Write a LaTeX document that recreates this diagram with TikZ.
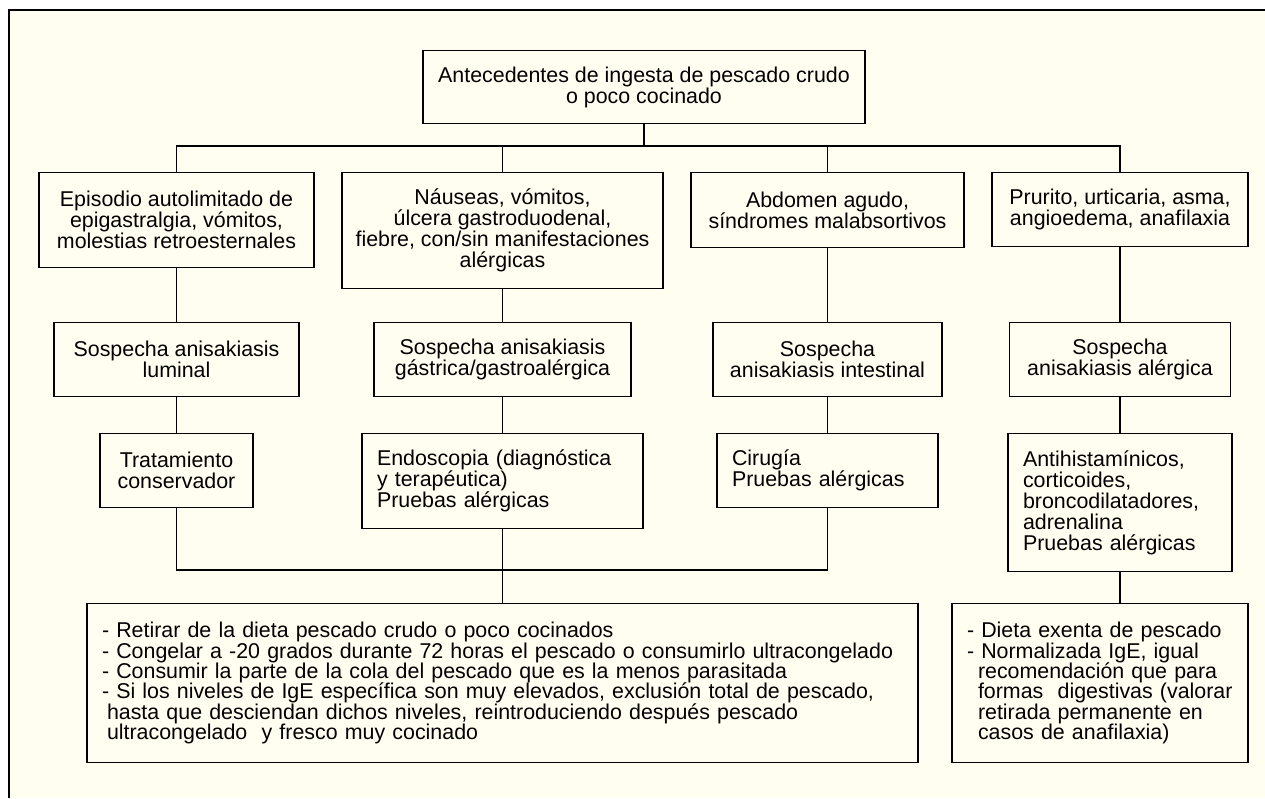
\documentclass[tikz,border=0pt]{standalone}
\usepackage{fontspec}
\setmainfont{Liberation Sans}
\usepackage{tikz}
\usetikzlibrary{positioning}
\definecolor{cream}{RGB}{255,254,241}
\newcommand{\boxfont}{\fontsize{21.4pt}{21pt}\selectfont}
\newcommand{\listfont}{\fontsize{21.4pt}{20.3pt}\selectfont}
\tikzset{
    %Define style for boxes
    punkt/.style={
           rectangle,
           draw=black, line width=1.2pt,
           fill=cream,
           inner sep=4pt,
           font=\boxfont,
           align=center},
    punktleft/.style={
           punkt,
           inner xsep=15pt,
           align=left},
    % Define line style
    pil/.style={
           -,
           line width=1.2pt}
}

\begin{document}
\begin{tikzpicture}[x=1pt,y=-1pt,pil]
\useasboundingbox (0,0) rectangle (1265,798);
\fill[cream] (9,10) rectangle (1265,798);
\draw (9,798) -- (9,10) -- (1265,10);

 %nodes
\node[punkt, minimum width=442pt, minimum height=73pt, anchor=north] (1) at (644,50) {Antecedentes de ingesta de pescado crudo\\o poco cocinado};

\node[punkt, minimum width=275pt, minimum height=95pt, anchor=north] (2) at (176.5,172) {Episodio autolimitado de\\epigastralgia, vómitos,\\molestias retroesternales};
\node[punkt, minimum width=321pt, minimum height=116pt, anchor=north] (3) at (502.5,172) {Náuseas, vómitos,\\úlcera gastroduodenal,\\fiebre, con/sin manifestaciones\\alérgicas};
\node[punkt, minimum width=273pt, minimum height=75pt, anchor=north] (4) at (827.5,172) {Abdomen agudo,\\síndromes malabsortivos};
\node[punkt, minimum width=256pt, minimum height=74pt, anchor=north] (5) at (1120,172) {Prurito, urticaria, asma,\\angioedema, anafilaxia};

\node[punkt, minimum width=245pt, minimum height=74pt, anchor=north] (6) at (176.5,322) {Sospecha anisakiasis\\luminal};
\node[punkt, minimum width=257pt, minimum height=74pt, anchor=north] (7) at (502.5,322) {Sospecha anisakiasis\\gástrica/gastroalérgica};
\node[punkt, minimum width=229pt, minimum height=74pt, anchor=north] (8) at (827.5,322) {Sospecha\\anisakiasis intestinal};
\node[punkt, minimum width=221pt, minimum height=74pt, anchor=north] (9) at (1120,322) {Sospecha\\anisakiasis alérgica};

\node[punkt, below=36pt of 6, minimum width=153pt, minimum height=74pt] (10) {Tratamiento\\conservador};
\node[punktleft, below=36pt of 7, text width=251pt, minimum height=95pt] (11) {Endoscopia (diagnóstica\\y terapéutica)\\Pruebas alérgicas};
\node[punktleft, below=36pt of 8, text width=191pt, minimum height=74pt] (12) {Cirugía\\Pruebas alérgicas};
\node[punktleft, below=36pt of 9, text width=194pt, minimum height=138pt] (13) {Antihistamínicos,\\corticoides,\\broncodilatadores,\\adrenalina\\Pruebas alérgicas};

\node[punktleft, font=\listfont, text width=801pt, minimum height=159pt, anchor=north] (14) at (502.5,603) {- Retirar de la dieta pescado crudo o poco cocinados\\- Congelar a -20 grados durante 72 horas el pescado o consumirlo ultracongelado\\- Consumir la parte de la cola del pescado que es la menos parasitada\\- Si los niveles de IgE específica son muy elevados, exclusión total de pescado,\\\hspace*{5pt}hasta que desciendan dichos niveles, reintroduciendo después pescado\\\hspace*{5pt}ultracongelado\ \ y fresco muy cocinado};
\node[punktleft, font=\listfont, text width=266pt, minimum height=159pt, anchor=north] (15) at (1100,603) {- Dieta exenta de pescado\\- Normalizada IgE, igual\\\hspace*{11pt}recomendación que para\\\hspace*{11pt}formas\ \ digestivas (valorar\\\hspace*{11pt}retirada permanente en\\\hspace*{11pt}casos de anafilaxia)};

 %lines
\coordinate (bus1) at (644,146);
\coordinate (bus2) at (502.5,570);
\draw (1) -- (bus1);
\draw (2.north) |- (bus1) -| (5.north);
\draw (3.north) -- (3.north |- bus1)
      (4.north) -- (4.north |- bus1);
\path (2) edge (6)
      (6) edge (10)
      (3) edge (7)
      (7) edge (11)
      (4) edge (8)
      (8) edge (12)
      (5) edge (9)
      (9) edge (13);
\draw (10.south) |- (bus2) -| (12.south);
\draw (11) -- (14);
\draw (13.south) -- (13.south |- 15.north);

\end{tikzpicture}
\end{document}
